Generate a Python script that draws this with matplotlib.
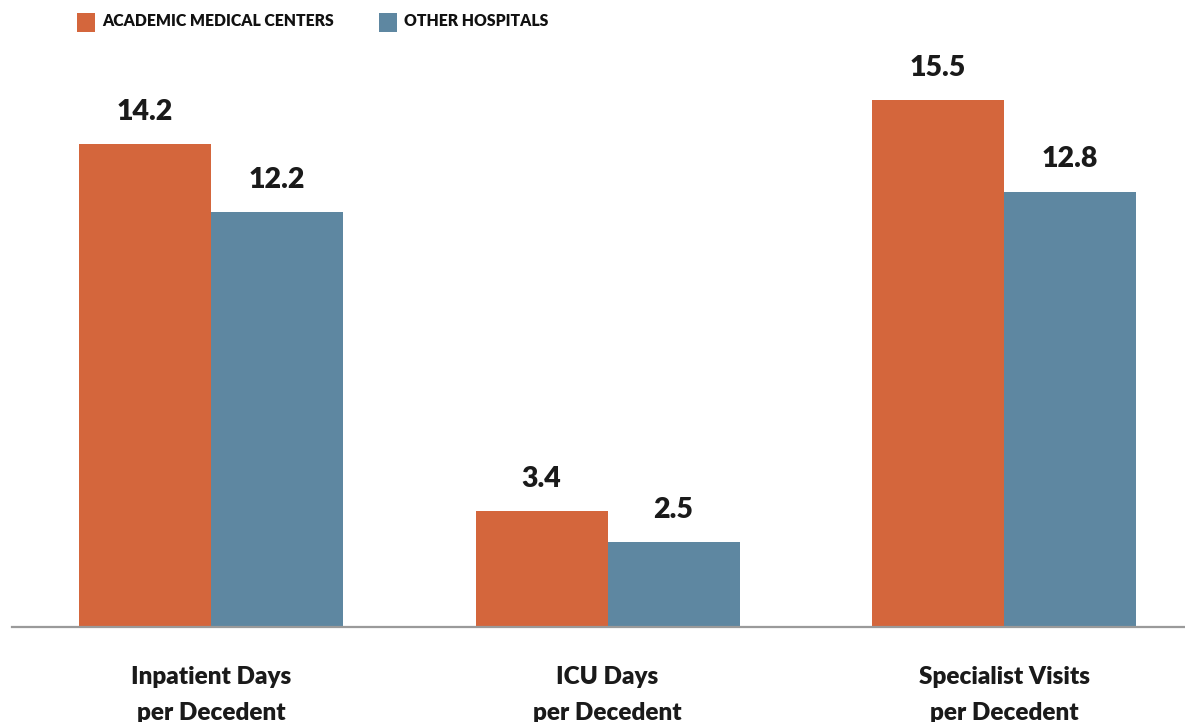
import matplotlib
matplotlib.use("Agg")
import matplotlib.pyplot as plt
from matplotlib.patches import Rectangle
import numpy as np

categories = ["Inpatient Days\nper Decedent", "ICU Days\nper Decedent", "Specialist Visits\nper Decedent"]
series_names = ["ACADEMIC MEDICAL CENTERS", "OTHER HOSPITALS"]
academic = [14.2, 3.4, 15.5]
other = [12.2, 2.5, 12.8]
colors = ["#D4663C", "#5E87A1"]

FONT = "Lato"
WEIGHT = "heavy"
W, H = 1185, 722
fig = plt.figure(figsize=(W / 100, H / 100), dpi=100)

# axes placement in pixels
base_y = 627
top_y = 50
left_px, right_px = 12, 1185
ax = fig.add_axes([left_px / W, (H - base_y) / H, (right_px - left_px) / W, (base_y - top_y) / H])

px_per_unit = 34.0
ax.set_ylim(0, (base_y - top_y) / px_per_unit)
spacing = 396.5
c0 = 211
ax.set_xlim((left_px - c0) / spacing, (right_px - c0) / spacing)

x = np.arange(len(categories))
bw = 132 / spacing
b1 = ax.bar(x - bw / 2, academic, width=bw, color=colors[0], linewidth=0)
b2 = ax.bar(x + bw / 2, other, width=bw, color=colors[1], linewidth=0)

for bars, vals in ((b1, academic), (b2, other)):
    for r, v in zip(bars, vals):
        ax.annotate(f"{v:.1f}", (r.get_x() + r.get_width() / 2, v), xytext=(0, 14),
                    textcoords="offset points", ha="center", va="bottom",
                    fontsize=20.5, fontweight=WEIGHT, family=FONT, color="#1a1a1a")

for s in ("top", "left", "right"):
    ax.spines[s].set_visible(False)
ax.spines["bottom"].set_color("#9a9a9a")
ax.spines["bottom"].set_linewidth(1.6)
ax.set_yticks([])
ax.set_xticks([])

# category labels (two lines each)
for xi, cat in zip(x, categories):
    l1, l2 = cat.split("\n")
    xf = ax.transData.transform((xi, 0))[0] / W
    fig.text(xf, 1 - 684 / H, l1, ha="center", va="baseline", fontsize=17.5,
             fontweight=WEIGHT, family=FONT, color="#1a1a1a")
    fig.text(xf, 1 - 720 / H, l2, ha="center", va="baseline", fontsize=17.5,
             fontweight=WEIGHT, family=FONT, color="#1a1a1a")

# legend
leg_items = [(77, series_names[0], colors[0]), (379, series_names[1], colors[1])]
for lx, name, col in leg_items:
    fig.add_artist(Rectangle((lx / W, 1 - 32 / H), 18 / W, 19 / H, transform=fig.transFigure,
                             facecolor=col, edgecolor="none"))
    fig.text((lx + 25) / W, 1 - 26 / H, name, ha="left", va="baseline", fontsize=11.3,
             fontweight=WEIGHT, family=FONT, color="#111111")

fig.savefig("out.png", dpi=100)
